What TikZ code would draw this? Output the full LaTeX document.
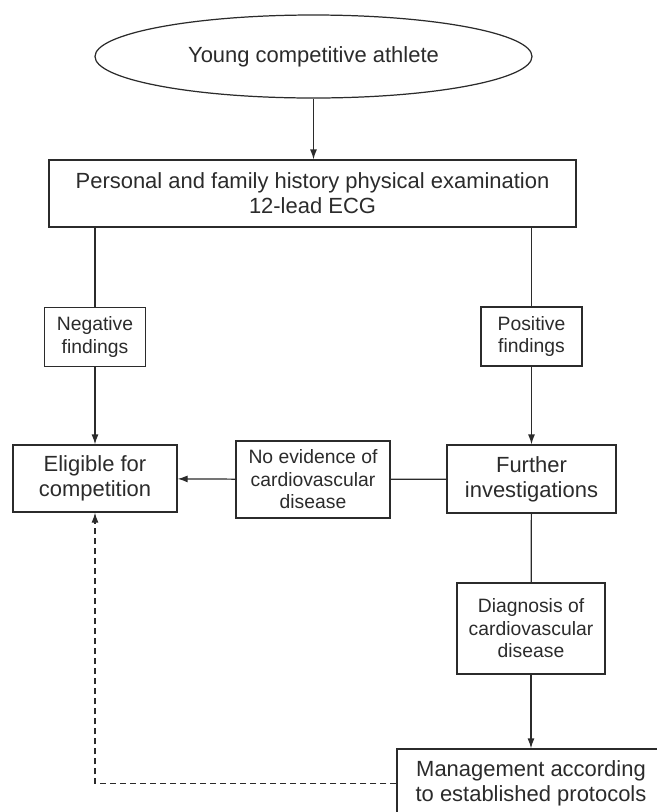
\documentclass[tikz,border=0pt]{standalone}
\usepackage{fontspec}
\setmainfont{Liberation Sans}
\usetikzlibrary{shapes.geometric,arrows.meta}
\definecolor{ink}{HTML}{2B2B2B}

\begin{document}
\begin{tikzpicture}[
    line width=0.7pt, draw=ink, text=ink,
    >={Latex[length=2mm,width=1.4mm]},
    box/.style={rectangle,draw=ink,inner sep=0pt,align=center,font=\fontsize{12.5}{14.2}\selectfont},
    smallbox/.style={box,font=\fontsize{11}{12.8}\selectfont},
    start/.style={ellipse,draw=ink,inner sep=0pt,minimum width=8.74cm,minimum height=1.66cm,font=\fontsize{12.5}{14.2}\selectfont}
    ]
    \useasboundingbox (0, 0) rectangle (13.12, -16.24);

    \node (athlete) at (6.27, -1.13) [start] {Young competitive athlete};
    \node (exam) at (6.25, -3.87) [box, minimum width=10.54cm, minimum height=1.34cm] {Personal and family history physical examination\\12-lead ECG};
    \node (neg) at (1.9, -6.74) [smallbox, minimum width=2.02cm, minimum height=1.17cm] {Negative\\findings};
    \node (pos) at (10.63, -6.73) [smallbox, minimum width=2.02cm, minimum height=1.18cm] {Positive\\findings};
    \node (elig) at (1.9, -9.57) [box, minimum width=3.28cm, minimum height=1.34cm] {Eligible for\\competition};
    \node (noev) at (6.26, -9.59) [smallbox, minimum width=3.08cm, minimum height=1.54cm] {No evidence of\\cardiovascular\\disease};
    \node (further) at (10.63, -9.58) [box, minimum width=3.38cm, minimum height=1.36cm] {Further\\investigations};
    \node (diag) at (10.62, -12.57) [smallbox, minimum width=2.96cm, minimum height=1.82cm] {Diagnosis of\\cardiovascular\\disease};
    \node (manage) at (10.62, -15.67) [box, minimum width=5.36cm, minimum height=1.38cm] {Management according\\to established protocols};

    \draw [->] (athlete.south) -- (athlete.south |- exam.north);
    \draw (neg.north) -- (neg.north |- exam.south);
    \draw [->] (neg) -- (elig);
    \draw (pos.north) -- (pos.north |- exam.south);
    \draw [->] (pos) -- (further);
    \draw (further) -- (noev);
    \draw [->] (noev) -- (elig);
    \draw (further) -- (diag);
    \draw [->] (diag) -- (manage);
    \draw [->, dash pattern=on 3.4pt off 2.3pt] (manage.west) -| (elig.south);
\end{tikzpicture}
\end{document}
